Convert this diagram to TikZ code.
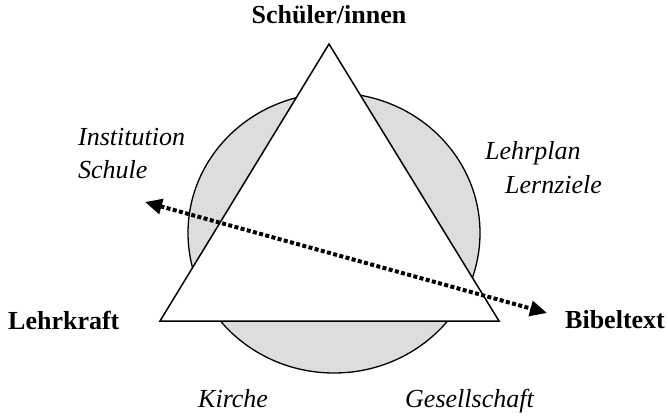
\documentclass[tikz,border=0pt]{standalone}
\usepackage{fontspec}
\setmainfont{Liberation Serif}
\usetikzlibrary{arrows.meta,shapes.geometric}
\definecolor{discgray}{RGB}{220,221,223}
\tikzset{
  lbl/.style={inner sep=0pt, anchor=base west, font=\fontsize{26}{32}\selectfont},
  boldlbl/.style={lbl, font=\fontsize{26}{32}\selectfont\bfseries},
  itlbl/.style={lbl, font=\fontsize{26}{32}\selectfont\itshape},
  disc/.style={ellipse, draw=black, line width=1.3pt, fill=discgray, inner sep=0pt},
  tri/.style={draw=black, line width=1.5pt, fill=white, line join=miter},
  dotarrow/.style={line width=4pt, dash pattern=on 4pt off 2.4pt,
    {Triangle[length=17pt,width=15pt]}-{Triangle[length=17pt,width=15pt]}}
}
\begin{document}
\begin{tikzpicture}[x=1pt,y=-1pt]
\useasboundingbox (0,0) rectangle (668,415);
% disc
\node[disc, minimum width=292pt, minimum height=280pt] (E) at (334,233) {};
% triangle
\coordinate (top) at (329,44);
\coordinate (left) at (160,321);
\coordinate (right) at (499,321);
\draw[tri] (top) -- (left) -- (right) -- cycle;
% arrow
\coordinate (pA) at (145,202);
\coordinate (pB) at (547,313);
\draw[dotarrow] (pA) -- (pB);
% labels
\node[boldlbl, anchor=base] (s) at (329,23) {Schüler/innen};
\node[boldlbl] (l) at (8,329) {Lehrkraft};
\node[boldlbl] (b) at (565,328) {Bibeltext};
\node[itlbl] (i1) at (78,145) {Institution};
\node[itlbl] (i2) at (78,178) {Schule};
\node[itlbl] (p1) at (485,159) {Lehrplan};
\node[itlbl] (p2) at (505,193) {Lernziele};
\node[itlbl] (k) at (198,407) {Kirche};
\node[itlbl] (g) at (405,407) {Gesellschaft};
\end{tikzpicture}
\end{document}
